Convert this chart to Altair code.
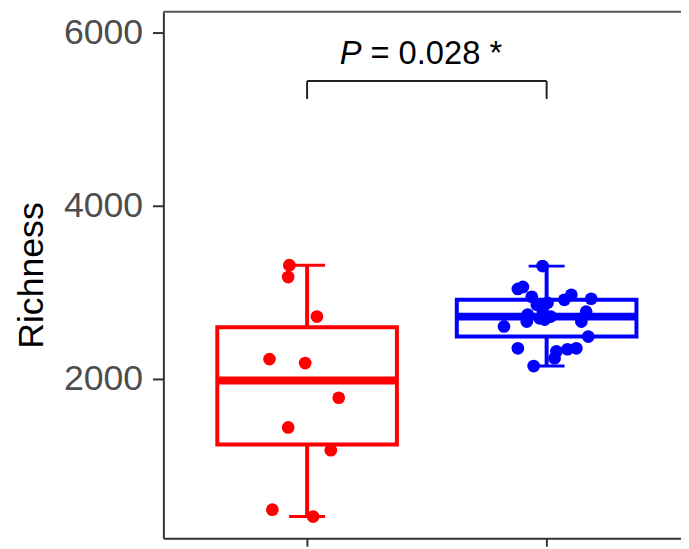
import altair as alt
import pandas as pd

# ---- data ----
groups = ["Group 1", "Group 2"]
group_pos = [1, 2]
colors = ["#FF0000", "#0000FF"]

red_values = [3314, 3177, 2720, 2229, 2183, 1783, 1440, 1177, 491, 411]
red_jitter = [-0.074, -0.079, 0.041, -0.157, -0.008, 0.132, -0.079, 0.099, -0.145, 0.025]

blue_values = [3303, 3040, 3063, 2949, 2971, 2914, 2926, 2857, 2800, 2880, 2777, 2743,
               2686, 2663, 2663, 2606, 2490, 2354, 2354, 2343, 2320, 2240, 2149, 2700, 2720]
blue_jitter = [-0.017, -0.120, -0.099, -0.062, 0.103, 0.074, 0.186, -0.041, -0.017, 0.004, 0.165, -0.079,
               -0.008, 0.145, -0.083, -0.178, 0.174, -0.120, 0.124, 0.087, 0.041, 0.033, -0.054, -0.029, 0.017]

y_ticks = [2000, 4000, 6000]
y_domain = [160, 6240]
x_domain = [0.4, 2.561]

bracket_x = [1, 2]
bracket_top = 5440
bracket_bottom = 5234
label_x = 1.5
label_y = 5634
label_p = "P"
label_rest = "= 0.028 *"

FONT = "Liberation Sans"

rows = []
for g, p, vals, jits in [(groups[0], group_pos[0], red_values, red_jitter),
                         (groups[1], group_pos[1], blue_values, blue_jitter)]:
    for v, j in zip(vals, jits):
        rows.append({"group": g, "pos": p, "value": v, "jx": p + j})
df = pd.DataFrame(rows)

color = alt.Color("group:N", scale=alt.Scale(domain=groups, range=colors), legend=None)
xs = alt.Scale(domain=x_domain, nice=False, zero=False)
ys = alt.Scale(domain=y_domain, nice=False, zero=False)
x_axis = alt.Axis(values=group_pos, title=None, labels=False, grid=False,
                  tickSize=8, tickWidth=2, tickColor="#333333",
                  domainColor="#333333", domainWidth=2)
y_axis = alt.Axis(values=y_ticks, format="d", title="Richness", grid=False,
                  tickSize=11, tickWidth=2, tickColor="#333333",
                  domainColor="#333333", domainWidth=2,
                  labelFont=FONT, labelFontSize=36, labelColor="#4D4D4D", labelPadding=10,
                  titleFont=FONT, titleFontSize=36, titleFontWeight="normal", titleColor="#000000",
                  titleX=-133, titleBaseline="middle")

base = alt.Chart(df)

# box body
box = base.transform_aggregate(
    q1="q1(value)", q3="q3(value)", med="median(value)", groupby=["group", "pos"]
).transform_calculate(
    lo="datum.pos - 0.375", hi="datum.pos + 0.375"
)
box_rect = box.mark_rect(fill="white", strokeWidth=4).encode(
    x=alt.X("lo:Q", scale=xs, axis=x_axis), x2="hi:Q",
    y=alt.Y("q1:Q", scale=ys, axis=y_axis), y2="q3:Q",
    stroke=color,
)
median = box.mark_rule(strokeWidth=8).encode(
    x=alt.X("lo:Q", scale=xs, axis=x_axis), x2="hi:Q",
    y=alt.Y("med:Q", scale=ys, axis=y_axis),
    color=color,
)

# whiskers (most extreme values within 1.5 IQR)
wh = base.transform_joinaggregate(
    q1="q1(value)", q3="q3(value)", groupby=["group"]
).transform_filter(
    "datum.value >= datum.q1 - 1.5*(datum.q3-datum.q1) && datum.value <= datum.q3 + 1.5*(datum.q3-datum.q1)"
).transform_aggregate(
    wmin="min(value)", wmax="max(value)", q1="min(q1)", q3="min(q3)", groupby=["group", "pos"]
).transform_calculate(
    clo="datum.pos - 0.075", chi="datum.pos + 0.075"
)
wh_up = wh.mark_rule(strokeWidth=4).encode(
    x=alt.X("pos:Q", scale=xs, axis=x_axis),
    y=alt.Y("q3:Q", scale=ys, axis=y_axis), y2="wmax:Q", color=color)
wh_lo = wh.mark_rule(strokeWidth=4).encode(
    x=alt.X("pos:Q", scale=xs, axis=x_axis),
    y=alt.Y("wmin:Q", scale=ys, axis=y_axis), y2="q1:Q", color=color)
cap_up = wh.mark_rule(strokeWidth=3).encode(
    x=alt.X("clo:Q", scale=xs, axis=x_axis), x2="chi:Q",
    y=alt.Y("wmax:Q", scale=ys, axis=y_axis), color=color)
cap_lo = wh.mark_rule(strokeWidth=3).encode(
    x=alt.X("clo:Q", scale=xs, axis=x_axis), x2="chi:Q",
    y=alt.Y("wmin:Q", scale=ys, axis=y_axis), color=color)

points = base.mark_circle(size=165, opacity=1).encode(
    x=alt.X("jx:Q", scale=xs, axis=x_axis),
    y=alt.Y("value:Q", scale=ys, axis=y_axis),
    color=color,
)

# significance bracket
br = pd.DataFrame({"x": [bracket_x[0]], "x2": [bracket_x[1]],
                   "top": [bracket_top], "bottom": [bracket_bottom]})
brv = pd.DataFrame({"x": bracket_x, "top": [bracket_top] * 2, "bottom": [bracket_bottom] * 2})
br_h = alt.Chart(br).mark_rule(color="#222222", strokeWidth=2).encode(
    x=alt.X("x:Q", scale=xs, axis=x_axis), x2="x2:Q",
    y=alt.Y("top:Q", scale=ys, axis=y_axis))
br_v = alt.Chart(brv).mark_rule(color="#222222", strokeWidth=2).encode(
    x=alt.X("x:Q", scale=xs, axis=x_axis),
    y=alt.Y("bottom:Q", scale=ys, axis=y_axis), y2="top:Q")

lab = pd.DataFrame({"x": [label_x], "y": [label_y], "p": [label_p], "rest": [label_rest]})
txt_p = alt.Chart(lab).mark_text(font=FONT, fontSize=33, fontStyle="italic", align="left",
                                 baseline="alphabetic", dx=-88, color="#000000").encode(
    x=alt.X("x:Q", scale=xs, axis=x_axis), y=alt.Y("y:Q", scale=ys, axis=y_axis), text="p:N")
txt_r = alt.Chart(lab).mark_text(font=FONT, fontSize=33, align="left",
                                 baseline="alphabetic", dx=-57, color="#000000").encode(
    x=alt.X("x:Q", scale=xs, axis=x_axis), y=alt.Y("y:Q", scale=ys, axis=y_axis), text="rest:N")

# top frame line of the panel
frame_top = alt.Chart(pd.DataFrame({"a": [0]})).mark_rule(color="#555555", strokeWidth=2).encode(
    x=alt.value(0), x2=alt.value(523), y=alt.value(0))

chart = alt.layer(
    frame_top, cap_up, cap_lo, wh_up, wh_lo, box_rect, median, points, br_h, br_v, txt_p, txt_r
).properties(
    width=523, height=532,
    autosize=alt.AutoSizeParams(type="none"),
    padding={"left": 157, "top": 1, "right": 0, "bottom": 8},
    background="white",
).configure_view(stroke=None)

chart.save("out.html", embed_options={"renderer": "svg", "actions": False})
